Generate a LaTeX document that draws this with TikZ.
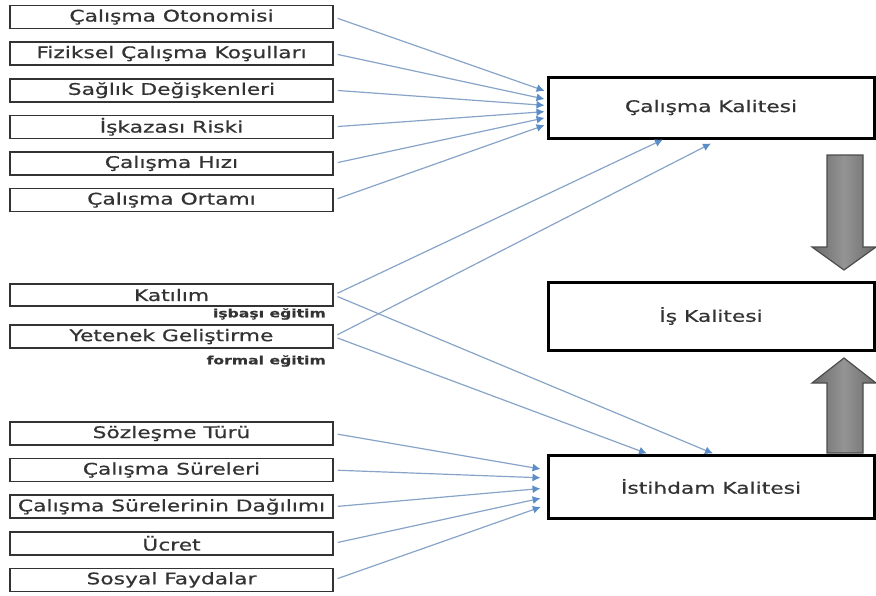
\documentclass[tikz,border=0pt]{standalone}
\usepackage{fontspec}
\setmainfont{DejaVu Sans}[FakeStretch=1.36, FakeBold=0.6]
\usepackage{xcolor}
\usetikzlibrary{arrows.meta, positioning, calc}
\definecolor{qText}{HTML}{333333}
\definecolor{qLine}{HTML}{87A4C8}
\definecolor{qTip}{HTML}{5B8DC8}
\tikzset{
  q-item/.style={
    rectangle, draw=black!80, line width=1.6pt, fill=white,
    minimum width=323pt, minimum height=23pt, inner sep=0pt,
    font=\fontsize{16}{16}\selectfont, text=qText
  },
  q-main/.style={
    rectangle, draw=black, line width=3pt, fill=white,
    minimum width=326pt, inner sep=0pt,
    font=\fontsize{16}{16}\selectfont, text=qText
  },
  q-note/.style={anchor=east, inner sep=0pt, font=\fontsize{11.5}{11.5}\selectfont\bfseries, text=qText},
  q-flow/.style={draw=qLine, line width=1.2pt, -{Latex[length=8pt,width=8pt,color=qTip]}, shorten <=4pt, shorten >=2pt},
  q-big/.style={draw=black!70, line width=1.2pt, left color=black!58, right color=black!58, middle color=black!42},
}
\begin{document}
\begin{tikzpicture}[x=1pt, y=-1pt, node distance=12pt]
  \useasboundingbox (0,0) rectangle (876,595);

  % calisma kalitesi boyutlari
  \node[q-item] (oto) at (171.5,17) {Çalışma Otonomisi};
  \node[q-item, below=of oto] (fiz) {Fiziksel Çalışma Koşulları};
  \node[q-item, below=of fiz] (sag) {Sağlık Değişkenleri};
  \node[q-item, below=of sag] (isk) {İşkazası Riski};
  \node[q-item, below=of isk] (hiz) {Çalışma Hızı};
  \node[q-item, below=of hiz] (ort) {Çalışma Ortamı};

  % ortak boyutlar
  \node[q-item, minimum height=22pt] (kat) at (171.5,295) {Katılım};
  \node[q-item, below=17.5pt of kat] (yet) {Yetenek Geliştirme};
  \node[q-note] (isb) at (326,314) {işbaşı eğitim};
  \node[q-note] (frm) at (326,361) {formal eğitim};

  % istihdam kalitesi boyutlari
  \node[q-item] (soz) at (171.5,433.5) {Sözleşme Türü};
  \node[q-item, below=of soz] (sure) {Çalışma Süreleri};
  \node[q-item, below=of sure] (dag) {Çalışma Sürelerinin Dağılımı};
  \node[q-item, below=of dag] (ucr) {Ücret};
  \node[q-item, below=of ucr] (sos) {Sosyal Faydalar};

  % sag sutun
  \node[q-main, minimum height=61pt] (ck) at (711,107.5) {Çalışma Kalitesi};
  \node[q-main, minimum height=68pt] (ik) at (711,316) {İş Kalitesi};
  \node[q-main, minimum height=63pt] (ist) at (711,486.5) {İstihdam Kalitesi};

  \draw[q-flow] (oto.east) -- ([yshift=16pt]ck.west);
  \draw[q-flow] (fiz.east) -- ([yshift=8pt]ck.west);
  \draw[q-flow] (sag.east) -- ([yshift=2pt]ck.west);
  \draw[q-flow] (isk.east) -- ([yshift=-4pt]ck.west);
  \draw[q-flow] (hiz.east) -- ([yshift=-10pt]ck.west);
  \draw[q-flow] (ort.east) -- ([yshift=-17pt]ck.west);

  \draw[q-flow, shorten >=0pt] (kat.east) -- ([xshift=-48pt]ck.south);
  \draw[q-flow, shorten >=0pt] (yet.east) -- ([yshift=-4pt]ck.south);
  \draw[q-flow, shorten >=0pt] (kat.east) -- ([xshift=2pt]ist.north);
  \draw[q-flow, shorten >=0pt] (yet.east) -- ([xshift=-64pt]ist.north);

  \draw[q-flow, shorten >=6pt] (soz.east) -- ([yshift=16.5pt]ist.west);
  \draw[q-flow, shorten >=6pt] (sure.east) -- ([yshift=8.5pt]ist.west);
  \draw[q-flow, shorten >=6pt] (dag.east) -- ([yshift=-1.5pt]ist.west);
  \draw[q-flow, shorten >=6pt] (ucr.east) -- ([yshift=-10.5pt]ist.west);
  \draw[q-flow, shorten >=6pt] (sos.east) -- ([yshift=-18.5pt]ist.west);

  % buyuk oklar
  \draw[q-big] (827,155) -- (863,155) -- (863,247) -- (876,247) -- (844,270)
    -- (812,247) -- (827,247) -- cycle;
  \draw[q-big] (827,453) -- (863,453) -- (863,383) -- (876,383) -- (844,358)
    -- (812,383) -- (827,383) -- cycle;
\end{tikzpicture}
\end{document}
